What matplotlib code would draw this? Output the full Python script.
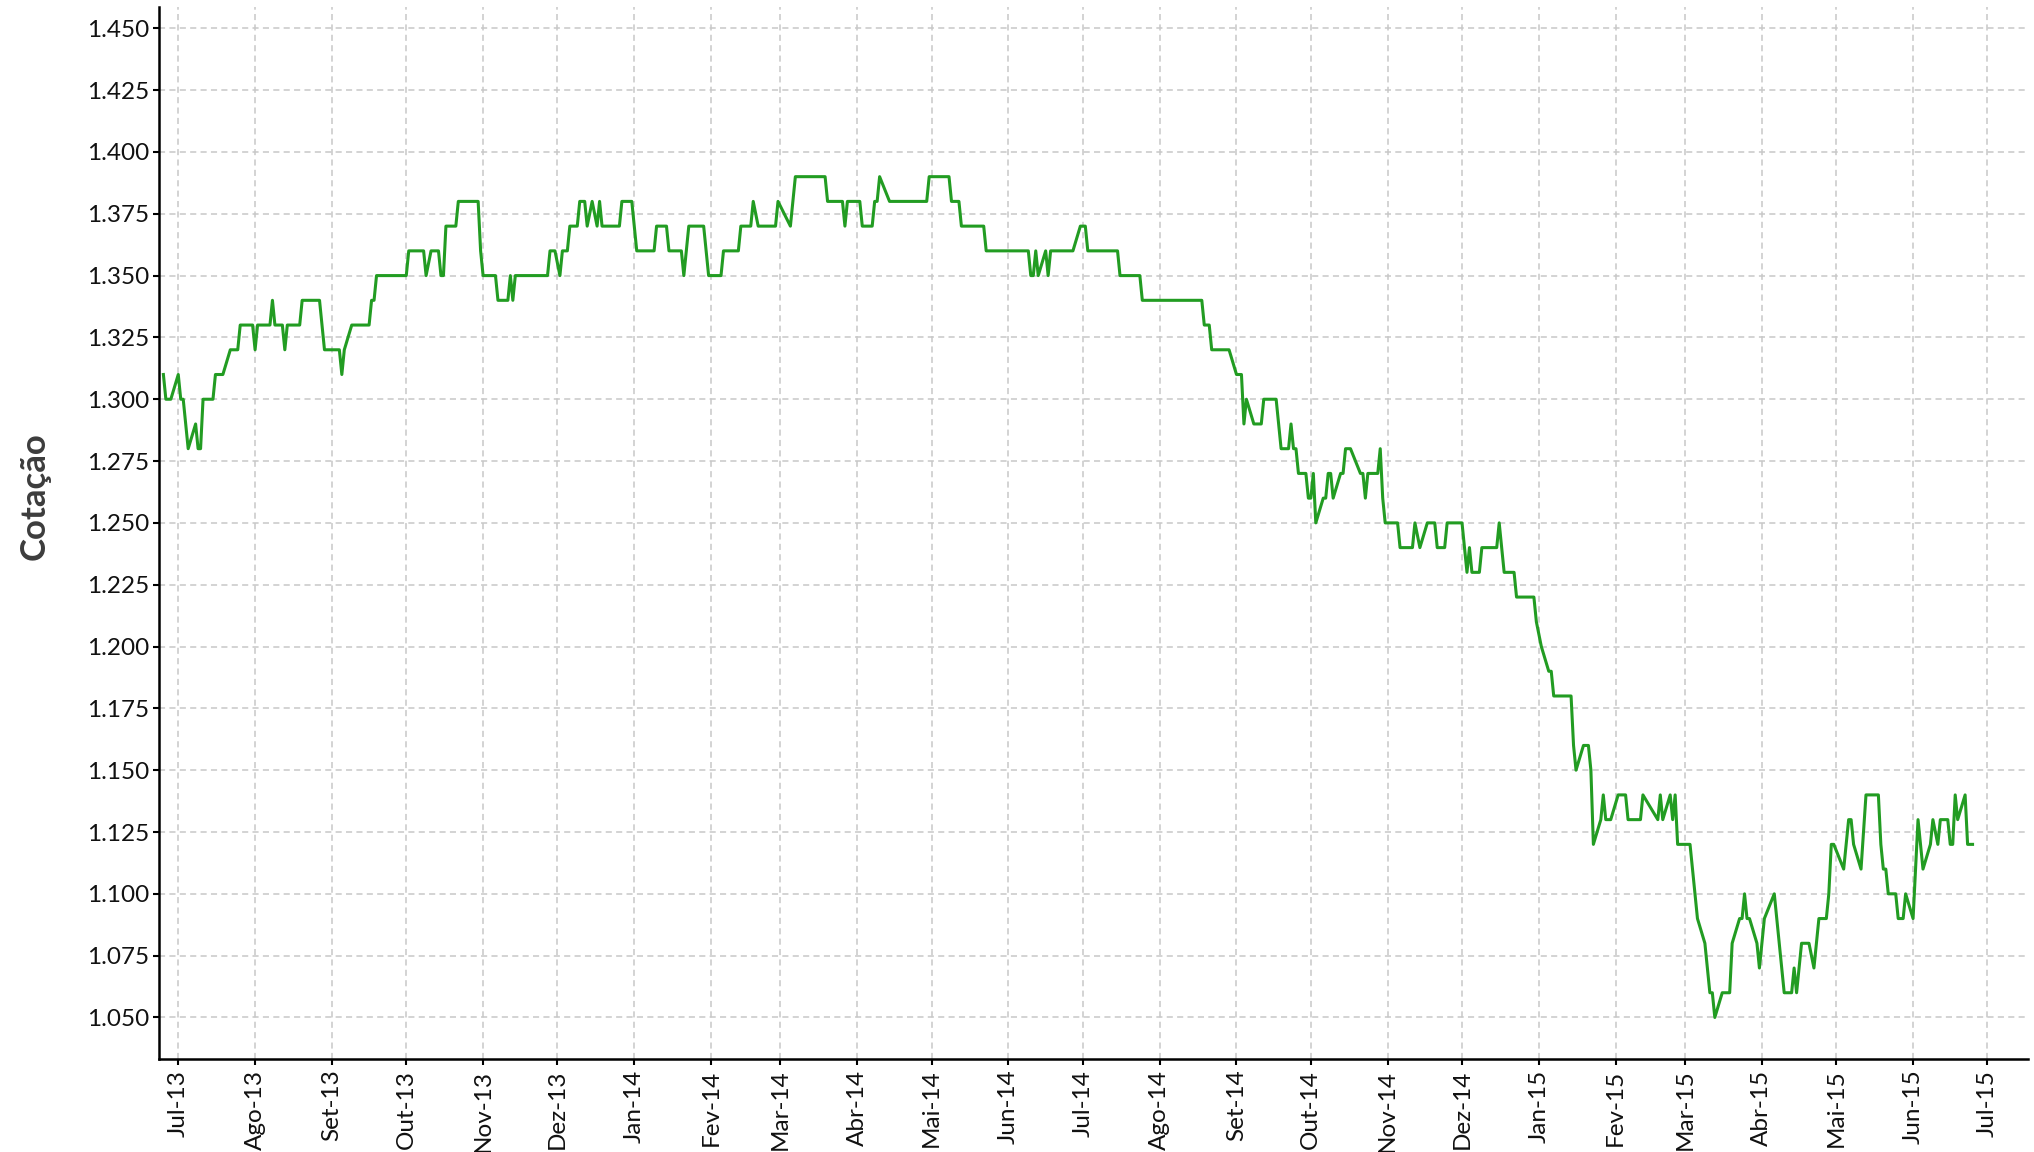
import matplotlib
matplotlib.use("Agg")
import matplotlib.pyplot as plt
import numpy as np
import pandas as pd

# daily EUR/USD quote (only the points where the line turns)
dates_2013 = [
    "2013-06-25", "2013-06-26", "2013-06-28",
    "2013-07-01", "2013-07-02", "2013-07-03", "2013-07-05", "2013-07-08", "2013-07-09", "2013-07-10", "2013-07-11",
    "2013-07-15", "2013-07-16", "2013-07-19", "2013-07-22", "2013-07-25", "2013-07-26", "2013-07-31",
    "2013-08-01", "2013-08-02", "2013-08-07", "2013-08-08", "2013-08-09", "2013-08-12", "2013-08-13", "2013-08-14",
    "2013-08-19", "2013-08-20", "2013-08-27", "2013-08-29",
    "2013-09-04", "2013-09-05", "2013-09-06", "2013-09-09", "2013-09-16", "2013-09-17", "2013-09-18", "2013-09-19",
    "2013-10-01", "2013-10-02", "2013-10-08", "2013-10-09", "2013-10-11", "2013-10-14", "2013-10-15", "2013-10-16",
    "2013-10-17", "2013-10-21", "2013-10-22", "2013-10-30", "2013-10-31",
    "2013-11-01", "2013-11-06", "2013-11-07", "2013-11-11", "2013-11-12", "2013-11-13", "2013-11-14", "2013-11-27",
    "2013-11-28", "2013-11-30",
    "2013-12-02", "2013-12-03", "2013-12-05", "2013-12-06", "2013-12-09", "2013-12-10", "2013-12-12", "2013-12-13",
    "2013-12-15", "2013-12-17", "2013-12-18", "2013-12-19", "2013-12-26", "2013-12-27", "2013-12-31",
]
rates_2013 = [
    1.31, 1.30, 1.30,
    1.31, 1.30, 1.30, 1.28, 1.29, 1.28, 1.28, 1.30,
    1.30, 1.31, 1.31, 1.32, 1.32, 1.33, 1.33,
    1.32, 1.33, 1.33, 1.34, 1.33, 1.33, 1.32, 1.33,
    1.33, 1.34, 1.34, 1.32,
    1.32, 1.31, 1.32, 1.33, 1.33, 1.34, 1.34, 1.35,
    1.35, 1.36, 1.36, 1.35, 1.36, 1.36, 1.35, 1.35,
    1.37, 1.37, 1.38, 1.38, 1.36,
    1.35, 1.35, 1.34, 1.34, 1.35, 1.34, 1.35, 1.35,
    1.36, 1.36,
    1.35, 1.36, 1.36, 1.37, 1.37, 1.38, 1.38, 1.37,
    1.38, 1.37, 1.38, 1.37, 1.37, 1.38, 1.38,
]

dates_2014 = [
    "2014-01-02", "2014-01-09", "2014-01-10", "2014-01-14", "2014-01-15", "2014-01-20", "2014-01-21", "2014-01-23",
    "2014-01-29", "2014-01-31",
    "2014-02-05", "2014-02-06", "2014-02-12", "2014-02-13", "2014-02-17", "2014-02-18", "2014-02-20", "2014-02-27",
    "2014-02-28",
    "2014-03-05", "2014-03-07", "2014-03-19", "2014-03-20", "2014-03-26", "2014-03-27", "2014-03-28",
    "2014-04-02", "2014-04-03", "2014-04-07", "2014-04-08", "2014-04-09", "2014-04-10", "2014-04-14", "2014-04-29",
    "2014-04-30",
    "2014-05-08", "2014-05-09", "2014-05-12", "2014-05-13", "2014-05-22", "2014-05-23",
    "2014-06-09", "2014-06-10", "2014-06-11", "2014-06-12", "2014-06-13", "2014-06-16", "2014-06-17", "2014-06-18",
    "2014-06-27", "2014-06-30",
    "2014-07-02", "2014-07-03", "2014-07-15", "2014-07-16", "2014-07-24", "2014-07-25",
    "2014-08-18", "2014-08-19", "2014-08-21", "2014-08-22", "2014-08-29",
    "2014-09-01", "2014-09-03", "2014-09-04", "2014-09-05", "2014-09-08", "2014-09-11", "2014-09-12", "2014-09-17",
    "2014-09-19", "2014-09-22", "2014-09-23", "2014-09-24", "2014-09-25", "2014-09-26", "2014-09-29", "2014-09-30",
    "2014-10-01", "2014-10-02", "2014-10-03", "2014-10-06", "2014-10-07", "2014-10-08", "2014-10-09", "2014-10-10",
    "2014-10-13", "2014-10-14", "2014-10-15", "2014-10-17", "2014-10-21", "2014-10-22", "2014-10-23", "2014-10-24",
    "2014-10-28", "2014-10-29", "2014-10-30", "2014-10-31",
    "2014-11-05", "2014-11-06", "2014-11-11", "2014-11-12", "2014-11-14", "2014-11-17", "2014-11-20", "2014-11-21",
    "2014-11-24", "2014-11-25",
    "2014-12-01", "2014-12-03", "2014-12-04", "2014-12-05", "2014-12-08", "2014-12-09", "2014-12-15", "2014-12-16",
    "2014-12-18", "2014-12-22", "2014-12-23", "2014-12-30", "2014-12-31",
]
rates_2014 = [
    1.36, 1.36, 1.37, 1.37, 1.36, 1.36, 1.35, 1.37,
    1.37, 1.35,
    1.35, 1.36, 1.36, 1.37, 1.37, 1.38, 1.37, 1.37,
    1.38,
    1.37, 1.39, 1.39, 1.38, 1.38, 1.37, 1.38,
    1.38, 1.37, 1.37, 1.38, 1.38, 1.39, 1.38, 1.38,
    1.39,
    1.39, 1.38, 1.38, 1.37, 1.37, 1.36,
    1.36, 1.35, 1.35, 1.36, 1.35, 1.36, 1.35, 1.36,
    1.36, 1.37,
    1.37, 1.36, 1.36, 1.35, 1.35, 1.34,
    1.34, 1.33, 1.33, 1.32, 1.32,
    1.31, 1.31, 1.29, 1.30, 1.29, 1.29, 1.30, 1.30,
    1.28, 1.28, 1.29, 1.28, 1.28, 1.27, 1.27, 1.26,
    1.26, 1.27, 1.25, 1.26, 1.26, 1.27, 1.27, 1.26,
    1.27, 1.27, 1.28, 1.28, 1.27, 1.27, 1.26, 1.27,
    1.27, 1.28, 1.26, 1.25,
    1.25, 1.24, 1.24, 1.25, 1.24, 1.25, 1.25, 1.24,
    1.24, 1.25,
    1.25, 1.23, 1.24, 1.23, 1.23, 1.24, 1.24, 1.25,
    1.23, 1.23, 1.22, 1.22, 1.21,
]

dates_2015 = [
    "2015-01-02", "2015-01-05", "2015-01-06", "2015-01-07", "2015-01-14", "2015-01-15", "2015-01-16", "2015-01-19",
    "2015-01-21", "2015-01-22", "2015-01-23", "2015-01-26", "2015-01-27", "2015-01-28", "2015-01-30",
    "2015-02-02", "2015-02-05", "2015-02-06", "2015-02-11", "2015-02-12", "2015-02-18", "2015-02-19", "2015-02-20",
    "2015-02-23", "2015-02-24", "2015-02-25", "2015-02-26",
    "2015-03-03", "2015-03-06", "2015-03-09", "2015-03-11", "2015-03-12", "2015-03-13", "2015-03-16", "2015-03-19",
    "2015-03-20", "2015-03-23", "2015-03-24", "2015-03-25", "2015-03-26", "2015-03-27", "2015-03-30", "2015-03-31",
    "2015-04-02", "2015-04-06", "2015-04-10", "2015-04-13", "2015-04-14", "2015-04-15", "2015-04-17", "2015-04-20",
    "2015-04-22", "2015-04-24", "2015-04-27", "2015-04-28", "2015-04-29", "2015-04-30",
    "2015-05-04", "2015-05-06", "2015-05-07", "2015-05-08", "2015-05-11", "2015-05-13", "2015-05-18", "2015-05-19",
    "2015-05-20", "2015-05-21", "2015-05-22", "2015-05-25", "2015-05-26", "2015-05-28", "2015-05-29",
    "2015-06-01", "2015-06-03", "2015-06-05", "2015-06-08", "2015-06-09", "2015-06-11", "2015-06-12", "2015-06-15",
    "2015-06-16", "2015-06-17", "2015-06-18", "2015-06-19", "2015-06-22", "2015-06-23", "2015-06-25",
]
rates_2015 = [
    1.20, 1.19, 1.19, 1.18, 1.18, 1.16, 1.15, 1.16,
    1.16, 1.15, 1.12, 1.13, 1.14, 1.13, 1.13,
    1.14, 1.14, 1.13, 1.13, 1.14, 1.13, 1.14, 1.13,
    1.14, 1.13, 1.14, 1.12,
    1.12, 1.09, 1.08, 1.06, 1.06, 1.05, 1.06, 1.06,
    1.08, 1.09, 1.09, 1.10, 1.09, 1.09, 1.08, 1.07,
    1.09, 1.10, 1.06, 1.06, 1.07, 1.06, 1.08, 1.08,
    1.07, 1.09, 1.09, 1.10, 1.12, 1.12,
    1.11, 1.13, 1.13, 1.12, 1.11, 1.14, 1.14, 1.12,
    1.11, 1.11, 1.10, 1.10, 1.09, 1.09, 1.10,
    1.09, 1.13, 1.11, 1.12, 1.13, 1.12, 1.13, 1.13,
    1.12, 1.12, 1.14, 1.13, 1.14, 1.12, 1.12,
]

month_names = ["Jan", "Fev", "Mar", "Abr", "Mai", "Jun",
               "Jul", "Ago", "Set", "Out", "Nov", "Dez"]

dates = pd.to_datetime(dates_2013 + dates_2014 + dates_2015)
rates = np.array(rates_2013 + rates_2014 + rates_2015)

plt.rcParams["font.family"] = ["Lato", "DejaVu Sans"]

fig = plt.figure(figsize=(20.34, 11.52), dpi=100)
ax = fig.add_axes([0.0783, 0.0805, 0.9187, 0.9134])

ax.plot(dates, rates, color="#229c22", linewidth=2.2, zorder=3)

ax.set_ylim(1.0331, 1.4586)
ax.set_xlim(pd.Timestamp("2013-06-23 08:00"), pd.Timestamp("2015-07-17 08:00"))

ax.set_yticks(np.arange(1.05, 1.4501, 0.025))
ax.yaxis.set_major_formatter(plt.FuncFormatter(lambda v, p: "%.3f" % v))

ticks = pd.date_range("2013-07-01", "2015-07-01", freq="MS")
ax.set_xticks(ticks)
ax.set_xticklabels(["%s-%s" % (month_names[t.month - 1], str(t.year)[2:]) for t in ticks],
                   rotation=90)

ax.grid(True, color="#c8c8c8", linestyle=(0, (4, 2.8)), linewidth=1.1)
ax.set_axisbelow(True)

for side in ["top", "right"]:
    ax.spines[side].set_visible(False)
for side in ["left", "bottom"]:
    ax.spines[side].set_linewidth(1.8)
    ax.spines[side].set_color("black")

ax.tick_params(axis="both", length=4.5, width=1.5, color="black",
               labelsize=17.5, labelcolor="#111111", pad=3)

ax.set_ylabel("Cotação", fontsize=25, fontweight="bold", color="#3c3c3c")
ax.yaxis.set_label_coords(-0.058, 0.535)

fig.savefig("out.png", dpi=100)
